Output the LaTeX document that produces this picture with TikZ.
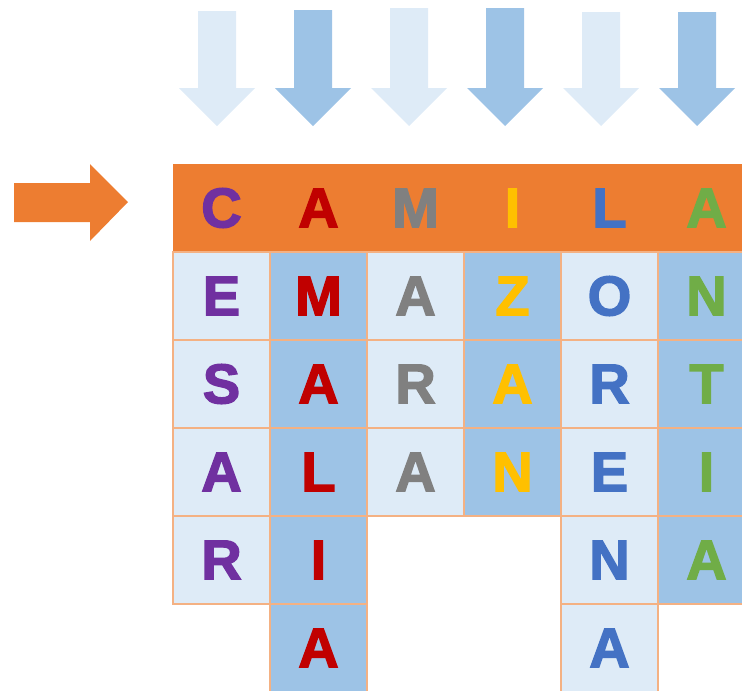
\documentclass[tikz,border=0pt]{standalone}
\usepackage{fontspec}
\setmainfont{Liberation Sans}
\newfontfamily\cellfont[FakeBold=2.5]{Liberation Sans Bold}
\definecolor{hdrorange}{HTML}{ED7D31}
\definecolor{paleblue}{HTML}{DEEBF7}
\definecolor{midblue}{HTML}{9DC3E6}
\definecolor{gridline}{HTML}{F4B183}
\definecolor{cpurple}{HTML}{7030A0}
\definecolor{cred}{HTML}{C00000}
\definecolor{cgray}{HTML}{808080}
\definecolor{cgold}{HTML}{FFC000}
\definecolor{cblue}{HTML}{4472C4}
\definecolor{cgreen}{HTML}{70AD47}
\tikzset{
  letter/.style={font=\fontsize{42}{42}\cellfont, inner sep=0pt},
  cellbox/.style={letter, draw=gridline, line width=1.3pt,
    minimum width=72.75pt, minimum height=66pt},
}
\begin{document}
\begin{tikzpicture}[x=0.75pt,y=-0.75pt]
  \useasboundingbox (0,0) rectangle (742,690);
  \clip (0,0) rectangle (742,690);

  % arrows on top of the columns
  \foreach \i/\fc/\t in {0/paleblue/11, 1/midblue/10, 2/paleblue/8,
                         3/midblue/8, 4/paleblue/12, 5/midblue/12}
  {
    \pgfmathsetmacro{\cx}{217+96*\i}
    \fill[\fc] (\cx-19,\t) -- (\cx+19,\t) -- (\cx+19,88) -- (\cx+38,88)
      -- (\cx,126) -- (\cx-38,88) -- (\cx-19,88) -- cycle;
  }

  % arrow pointing to the name
  \fill[hdrorange] (14,183) -- (90,183) -- (90,164) -- (128,202)
    -- (90,241) -- (90,222) -- (14,222) -- cycle;

  % name row
  \fill[hdrorange] (173,164) rectangle (760,252);

  % columns
  \foreach \j/\clr/\fc/\word in {1/cpurple/paleblue/{C,E,S,A,R},
                                 2/cred/midblue/{A,M,A,L,I,A},
                                 3/cgray/paleblue/{M,A,R,A},
                                 4/cgold/midblue/{I,Z,A,N},
                                 5/cblue/paleblue/{L,O,R,E,N,A},
                                 6/cgreen/midblue/{A,N,T,I,A}}
  {
    \foreach \l [count=\i from 0] in \word
    {
      \ifnum\i=0
        \node[letter, text=\clr] (c\j-\i) at (124.5+97*\j,208) {\l};
      \else
        \node[cellbox, fill=\fc, text=\clr] (c\j-\i) at (124.5+97*\j,208+88*\i) {\l};
      \fi
    }
  }
\end{tikzpicture}
\end{document}
